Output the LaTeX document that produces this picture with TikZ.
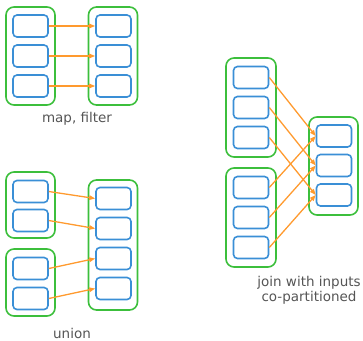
\documentclass[tikz,border=0pt]{standalone}
\usepackage{fontspec}
\setmainfont{DejaVu Sans}
\usetikzlibrary{arrows.meta}
\definecolor{grn}{HTML}{3CBF3C}
\definecolor{blu}{HTML}{3A8FD6}
\definecolor{org}{HTML}{FF9A2E}
\definecolor{txt}{HTML}{555555}
\tikzset{
  part/.style={draw=blu, line width=1.6pt, rounded corners=4pt, minimum width=35pt, minimum height=22pt, inner sep=0pt, fill=white},
  rdd/.style={draw=grn, line width=1.6pt, rounded corners=8pt, minimum width=49pt, inner sep=0pt},
  dep/.style={draw=org, line width=1.3pt, -{Triangle[length=6pt,width=4.5pt]}},
  lbl/.style={text=txt, font=\fontsize{13.5pt}{15pt}\selectfont, align=center, inner sep=0pt}
}
\begin{document}
\begin{tikzpicture}[x=1pt,y=-1pt]
\useasboundingbox (0,0) rectangle (363,340);
% map, filter
\node[rdd, minimum height=98pt] (mL) at (30.5,56) {};
\node[rdd, minimum height=98pt] (mR) at (113,56) {};
\node[part] (ma1) at (30.5,26) {};
\node[part] (ma2) at (30.5,56) {};
\node[part] (ma3) at (30.5,86) {};
\node[part] (mb1) at (113.5,26) {};
\node[part] (mb2) at (113.5,56) {};
\node[part] (mb3) at (113.5,86) {};
\draw[dep] (ma1.east) -- (mb1.west);
\draw[dep] (ma2.east) -- (mb2.west);
\draw[dep] (ma3.east) -- (mb3.west);
\node[lbl] (mlab) at (77,119) {map, filter};
% union
\node[rdd, minimum height=66pt] (uL1) at (30.5,205) {};
\node[rdd, minimum height=67pt] (uL2) at (30.5,282.5) {};
\node[rdd, minimum height=130pt] (uR) at (113,245) {};
\node[part] (ua1) at (30.5,191.5) {};
\node[part] (ua2) at (30.5,220.5) {};
\node[part] (ua3) at (30.5,268.5) {};
\node[part] (ua4) at (30.5,298.5) {};
\node[part] (ub1) at (113.5,198.5) {};
\node[part] (ub2) at (113.5,228.5) {};
\node[part] (ub3) at (113.5,258.5) {};
\node[part] (ub4) at (113.5,288.5) {};
\draw[dep] (ua1.east) -- (ub1.west);
\draw[dep] (ua2.east) -- (ub2.west);
\draw[dep] (ua3.east) -- (ub3.west);
\draw[dep] (ua4.east) -- (ub4.west);
\node[lbl] (ulab) at (72,333) {union};
% join
\node[rdd, minimum width=50pt, minimum height=99pt] (jL1) at (251,107.5) {};
\node[rdd, minimum width=50pt, minimum height=99pt] (jL2) at (251,217.5) {};
\node[rdd, minimum height=98pt] (jR) at (333.5,166) {};
\node[part] (ja1) at (251,77.5) {};
\node[part] (ja2) at (251,107.5) {};
\node[part] (ja3) at (251,137.5) {};
\node[part] (jb1) at (251,187.5) {};
\node[part] (jb2) at (251,217.5) {};
\node[part] (jb3) at (251,247.5) {};
\node[part] (jc1) at (334,136) {};
\node[part] (jc2) at (334,165.5) {};
\node[part] (jc3) at (334,195) {};
\draw[dep] (ja1.east) -- (jc1.west);
\draw[dep] (ja2.east) -- (jc2.west);
\draw[dep] (ja3.east) -- (jc3.west);
\draw[dep] (jb1.east) -- (jc1.west);
\draw[dep] (jb2.east) -- (jc2.west);
\draw[dep] (jb3.east) -- (jc3.west);
\node[lbl] (jlab) at (309,290.5) {join with inputs\\co-partitioned};
\end{tikzpicture}
\end{document}
